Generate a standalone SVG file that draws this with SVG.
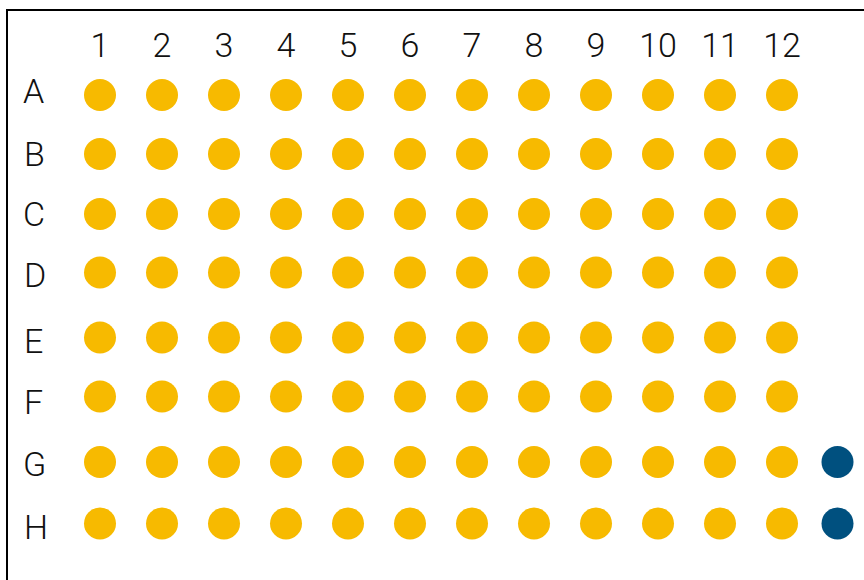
<svg xmlns="http://www.w3.org/2000/svg" width="864" height="580" viewBox="0 0 864 580">
<style>
.lbl{font-family:Roboto,"Liberation Sans",sans-serif;font-weight:300;font-size:34px;fill:#111}
.num{text-anchor:middle}
.w{fill:#F7BA00}
.b{fill:#00507F}
</style>
<rect width="864" height="580" fill="#fff"/>
<path d="M7,580 V10 H864" fill="none" stroke="#000" stroke-width="2"/>
<g id="col-labels">
<text class="lbl num" x="100" y="57">1</text>
<text class="lbl num" x="162" y="57">2</text>
<text class="lbl num" x="224" y="57">3</text>
<text class="lbl num" x="286" y="57">4</text>
<text class="lbl num" x="348" y="57">5</text>
<text class="lbl num" x="410" y="57">6</text>
<text class="lbl num" x="472" y="57">7</text>
<text class="lbl num" x="534" y="57">8</text>
<text class="lbl num" x="596" y="57">9</text>
<text class="lbl num" x="658" y="57">10</text>
<text class="lbl num" x="720" y="57">11</text>
<text class="lbl num" x="782" y="57">12</text>
</g>
<g id="row-labels">
<text class="lbl" x="23" y="103">A</text>
<text class="lbl" x="24" y="166">B</text>
<text class="lbl" x="23" y="226">C</text>
<text class="lbl" x="24" y="287">D</text>
<text class="lbl" x="24" y="353">E</text>
<text class="lbl" x="24" y="414">F</text>
<text class="lbl" x="23" y="476">G</text>
<text class="lbl" x="24" y="539">H</text>
</g>
<defs><circle id="well" r="16"/></defs>
<g id="row-A" transform="translate(0,95)">
<use href="#well" class="w" x="100"/><use href="#well" class="w" x="162"/><use href="#well" class="w" x="224"/><use href="#well" class="w" x="286"/><use href="#well" class="w" x="348"/><use href="#well" class="w" x="410"/><use href="#well" class="w" x="472"/><use href="#well" class="w" x="534"/><use href="#well" class="w" x="596"/><use href="#well" class="w" x="658"/><use href="#well" class="w" x="720"/><use href="#well" class="w" x="782"/>
</g>
<g id="row-B" transform="translate(0,154)">
<use href="#well" class="w" x="100"/><use href="#well" class="w" x="162"/><use href="#well" class="w" x="224"/><use href="#well" class="w" x="286"/><use href="#well" class="w" x="348"/><use href="#well" class="w" x="410"/><use href="#well" class="w" x="472"/><use href="#well" class="w" x="534"/><use href="#well" class="w" x="596"/><use href="#well" class="w" x="658"/><use href="#well" class="w" x="720"/><use href="#well" class="w" x="782"/>
</g>
<g id="row-C" transform="translate(0,214)">
<use href="#well" class="w" x="100"/><use href="#well" class="w" x="162"/><use href="#well" class="w" x="224"/><use href="#well" class="w" x="286"/><use href="#well" class="w" x="348"/><use href="#well" class="w" x="410"/><use href="#well" class="w" x="472"/><use href="#well" class="w" x="534"/><use href="#well" class="w" x="596"/><use href="#well" class="w" x="658"/><use href="#well" class="w" x="720"/><use href="#well" class="w" x="782"/>
</g>
<g id="row-D" transform="translate(0,272.5)">
<use href="#well" class="w" x="100"/><use href="#well" class="w" x="162"/><use href="#well" class="w" x="224"/><use href="#well" class="w" x="286"/><use href="#well" class="w" x="348"/><use href="#well" class="w" x="410"/><use href="#well" class="w" x="472"/><use href="#well" class="w" x="534"/><use href="#well" class="w" x="596"/><use href="#well" class="w" x="658"/><use href="#well" class="w" x="720"/><use href="#well" class="w" x="782"/>
</g>
<g id="row-E" transform="translate(0,337.5)">
<use href="#well" class="w" x="100"/><use href="#well" class="w" x="162"/><use href="#well" class="w" x="224"/><use href="#well" class="w" x="286"/><use href="#well" class="w" x="348"/><use href="#well" class="w" x="410"/><use href="#well" class="w" x="472"/><use href="#well" class="w" x="534"/><use href="#well" class="w" x="596"/><use href="#well" class="w" x="658"/><use href="#well" class="w" x="720"/><use href="#well" class="w" x="782"/>
</g>
<g id="row-F" transform="translate(0,396.5)">
<use href="#well" class="w" x="100"/><use href="#well" class="w" x="162"/><use href="#well" class="w" x="224"/><use href="#well" class="w" x="286"/><use href="#well" class="w" x="348"/><use href="#well" class="w" x="410"/><use href="#well" class="w" x="472"/><use href="#well" class="w" x="534"/><use href="#well" class="w" x="596"/><use href="#well" class="w" x="658"/><use href="#well" class="w" x="720"/><use href="#well" class="w" x="782"/>
</g>
<g id="row-G" transform="translate(0,462)">
<use href="#well" class="w" x="100"/><use href="#well" class="w" x="162"/><use href="#well" class="w" x="224"/><use href="#well" class="w" x="286"/><use href="#well" class="w" x="348"/><use href="#well" class="w" x="410"/><use href="#well" class="w" x="472"/><use href="#well" class="w" x="534"/><use href="#well" class="w" x="596"/><use href="#well" class="w" x="658"/><use href="#well" class="w" x="720"/><use href="#well" class="w" x="782"/><use href="#well" class="b" x="837.5"/>
</g>
<g id="row-H" transform="translate(0,523.5)">
<use href="#well" class="w" x="100"/><use href="#well" class="w" x="162"/><use href="#well" class="w" x="224"/><use href="#well" class="w" x="286"/><use href="#well" class="w" x="348"/><use href="#well" class="w" x="410"/><use href="#well" class="w" x="472"/><use href="#well" class="w" x="534"/><use href="#well" class="w" x="596"/><use href="#well" class="w" x="658"/><use href="#well" class="w" x="720"/><use href="#well" class="w" x="782"/><use href="#well" class="b" x="837.5"/>
</g>
</svg>
